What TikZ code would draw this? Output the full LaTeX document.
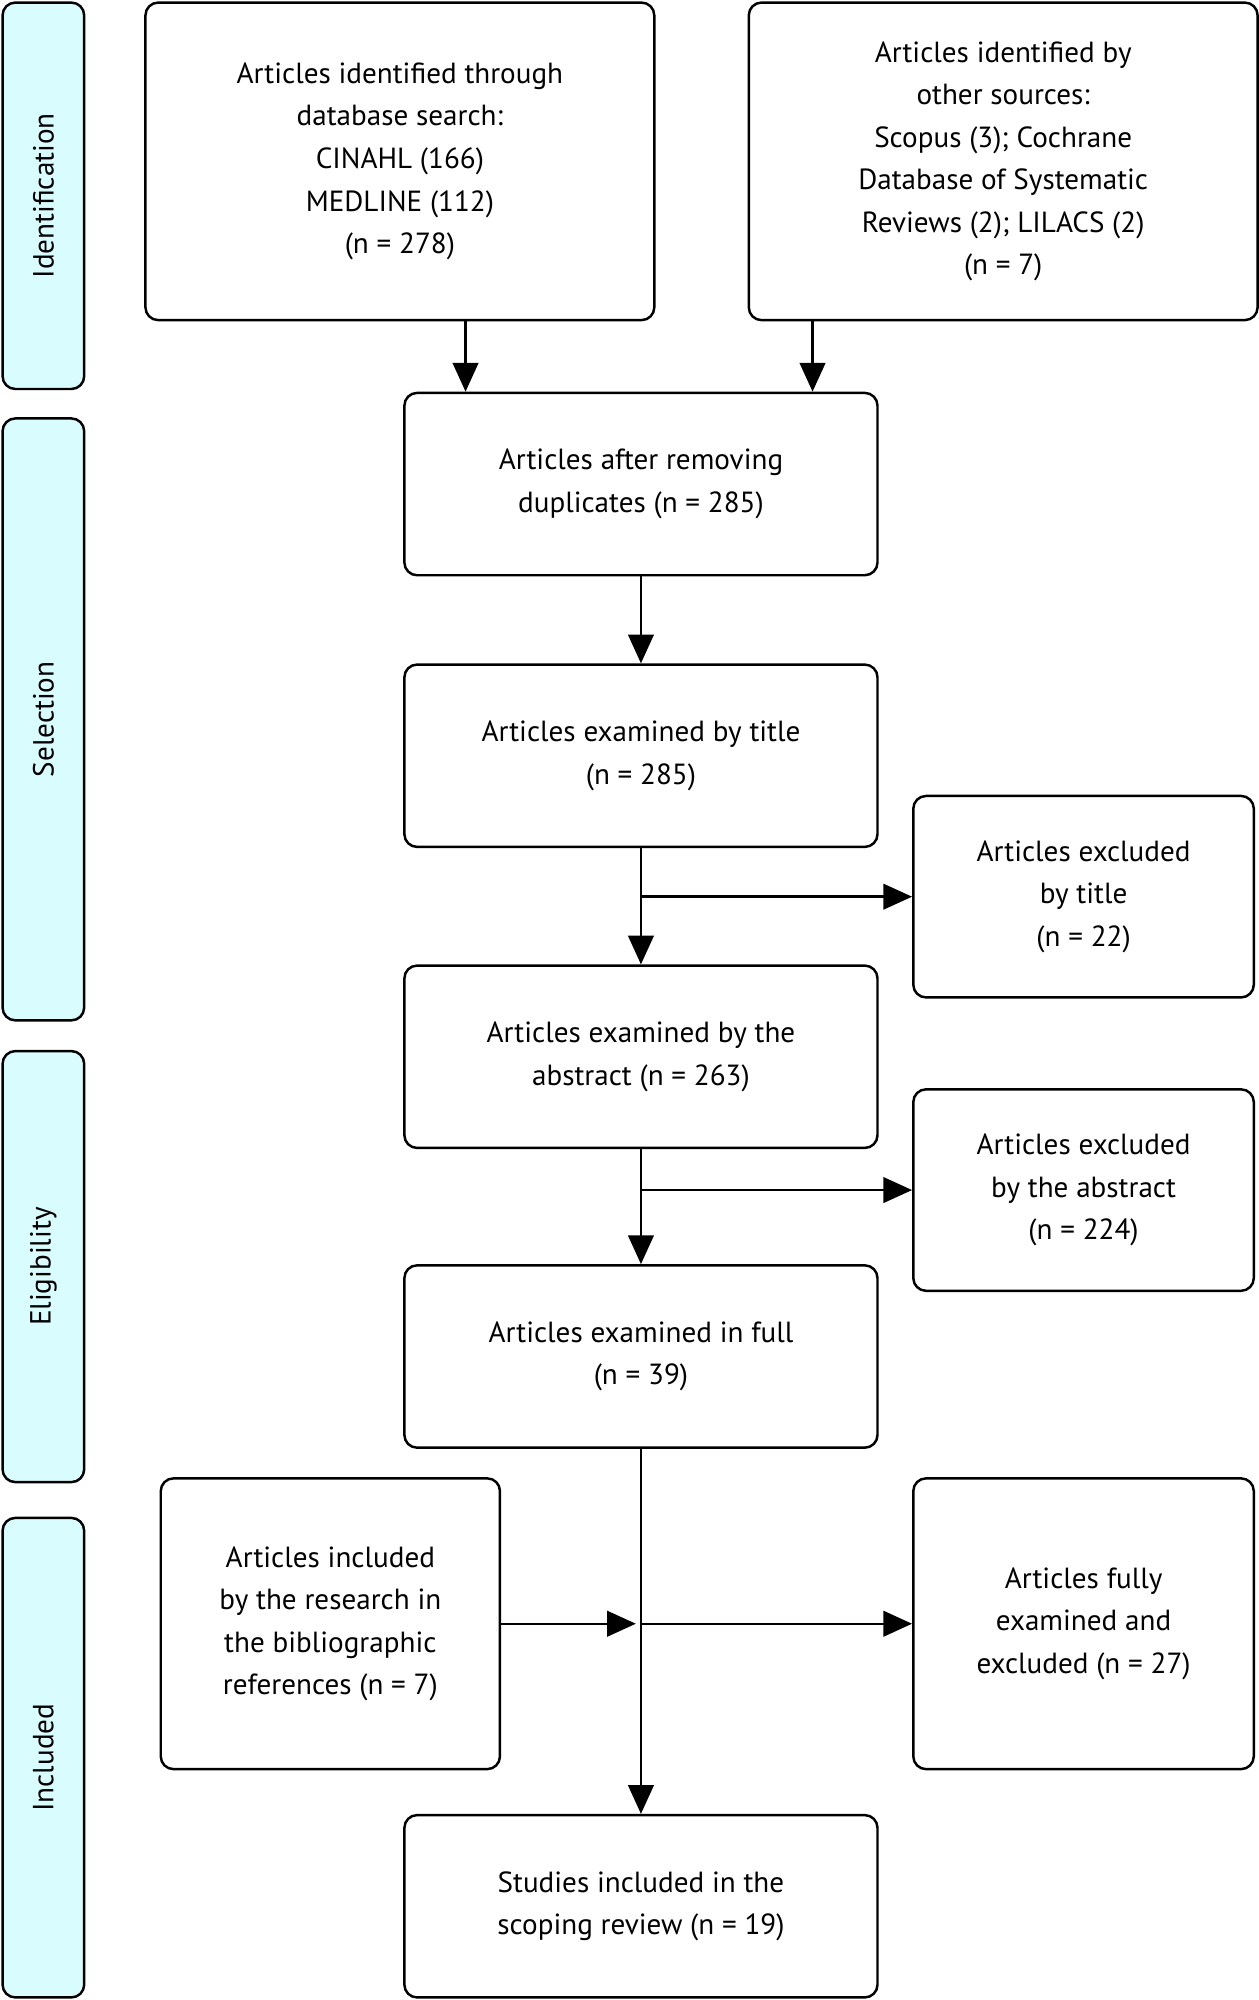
\documentclass[tikz,border=0pt]{standalone}
\usepackage{fontspec}
\setmainfont{PT Sans}
\usetikzlibrary{arrows.meta}
\tikzset{
    box/.style={draw, line width=1.1pt, rounded corners=0.2cm, align=center,
        font=\fontsize{13}{19}\selectfont, inner sep=2pt},
    big/.style={box, minimum width=7.98cm, minimum height=4.98cm},
    mid/.style={box, minimum width=7.42cm, minimum height=2.86cm},
    side/.style={box, minimum width=5.34cm, minimum height=3.16cm},
    band/.style={draw, line width=1.1pt, rounded corners=0.2cm, fill=blue!6!cyan!15,
        minimum width=1.28cm, font=\fontsize{13}{19}\selectfont},
    arr/.style={line width=1.1pt, -{Triangle[length=0.45cm, width=0.4cm]}}
}
\begin{document}
\begin{tikzpicture}[x=0.02cm, y=-0.02cm]
    \useasboundingbox (0,0) rectangle (987,1568);
    % Stages
    \node[band, minimum height=6.06cm] (idn) at (34,153.5) {};
    \node[rotate=90, font=\fontsize{13}{19}\selectfont] at (idn) {Identification};
    \node[band, minimum height=9.44cm] (sel) at (34,564) {};
    \node[rotate=90, font=\fontsize{13}{19}\selectfont] at (sel) {Selection};
    \node[band, minimum height=6.76cm] (eli) at (34,993) {};
    \node[rotate=90, font=\fontsize{13}{19}\selectfont] at (eli) {Eligibility};
    \node[band, minimum height=7.52cm] (inc) at (34,1378) {};
    \node[rotate=90, font=\fontsize{13}{19}\selectfont] at (inc) {Included};

    % Boxes
    \node[big] (db) at (313.5,126.5) {Articles identified through\\database search:\\CINAHL (166)\\MEDLINE (112)\\(n = 278)};
    \node[big] (other) at (786.5,126.5) {Articles identified by\\other sources:\\Scopus (3); Cochrane\\Database of Systematic\\Reviews (2); LILACS (2)\\(n = 7)};
    \node[mid] (dup) at (502.5,379.5) {Articles after removing\\duplicates (n = 285)};
    \node[mid] (title) at (502.5,592.5) {Articles examined by title\\(n = 285)};
    \node[side] (extitle) at (849.5,703) {Articles excluded\\by title\\(n = 22)};
    \node[mid] (abs) at (502.5,828.5) {Articles examined by the\\abstract (n = 263)};
    \node[side] (exabs) at (849.5,933) {Articles excluded\\by the abstract\\(n = 224)};
    \node[mid] (full) at (502.5,1063.5) {Articles examined in full\\(n = 39)};
    \node[box, minimum width=5.32cm, minimum height=4.56cm] (bib) at (259,1273) {Articles included\\by the research in\\the bibliographic\\references (n = 7)};
    \node[side, minimum height=4.56cm] (exfull) at (849.5,1273) {Articles fully\\examined and\\excluded (n = 27)};
    \node[mid] (final) at (502.5,1494.5) {Studies included in the\\scoping review (n = 19)};

    % Arrows
    \draw[arr] ([xshift=1.03cm]db.south) -- ([xshift=1.03cm]db.south |- dup.north);
    \draw[arr] ([xshift=-2.99cm]other.south) -- ([xshift=-2.99cm]other.south |- dup.north);
    \draw[arr] (dup) -- (title);
    \draw[arr] (title) -- (abs);
    \draw[arr] (title.south |- extitle.west) -- (extitle.west);
    \draw[arr] (abs) -- (full);
    \draw[arr] (abs.south |- exabs.west) -- (exabs.west);
    \draw[arr] (full) -- (final);
    \draw[arr] (full.south |- exfull.west) -- (exfull.west);
    \draw[arr] (bib.east) -- ([xshift=-0.08cm]full.south |- bib.east);
\end{tikzpicture}
\end{document}
